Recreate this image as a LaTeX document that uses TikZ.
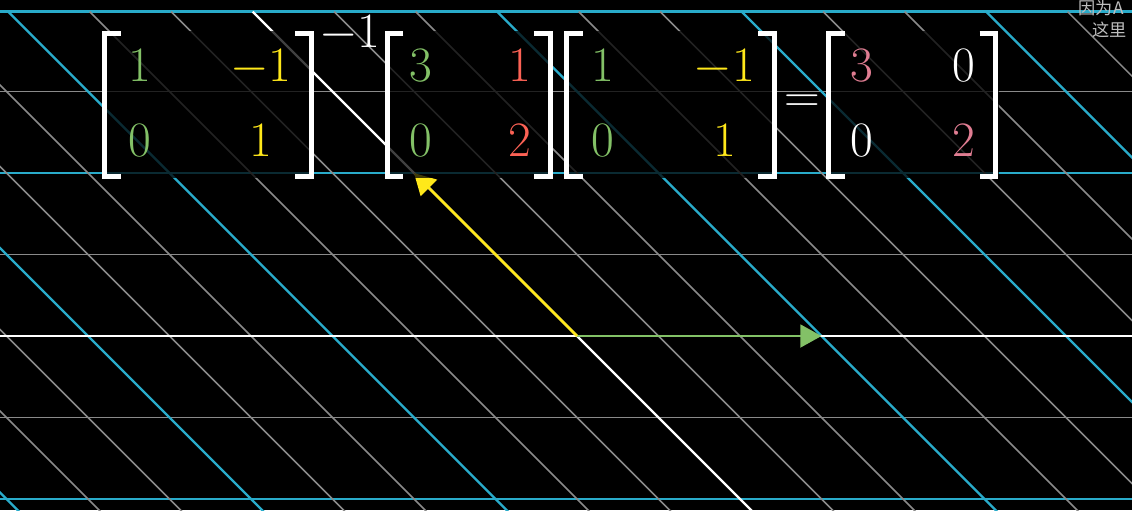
\documentclass[tikz,border=0pt]{standalone}
\usepackage{fontspec}
\newfontfamily\cjk{Noto Sans CJK SC}
\usetikzlibrary{arrows.meta}
\definecolor{gridblue}{HTML}{29ABCA}
\definecolor{gridgray}{HTML}{8A8A8A}
\definecolor{vecgreen}{HTML}{83C167}
\definecolor{vecyellow}{HTML}{FFE81A}
\definecolor{entred}{HTML}{FC6255}
\definecolor{entpink}{HTML}{E07D92}
\definecolor{subgray}{HTML}{BEBEBE}
\tikzset{
    faint/.style={line width=0.5pt, color=gridgray},
    major/.style={line width=0.8pt, color=gridblue},
    axis/.style={line width=0.8pt, color=white},
    vec/.style={line width=0.9pt, -{Triangle[length=0.26cm,width=0.28cm]}},
    matbg/.style={fill=black, fill opacity=0.75},
    brk/.style={line width=1.7pt, color=white},
    entry/.style={anchor=base, inner sep=0pt, font=\fontsize{16}{19}\selectfont},
}

\begin{document}
\begin{tikzpicture}
    \useasboundingbox (-7.08,-2.135) rectangle (6.81,4.123);
    \clip (-7.08,-2.135) rectangle (6.81,4.123);
    \fill [black] (-7.08,-2.135) rectangle (6.81,4.123);
    % horizontal lines
    \draw [major] (-7.2,-2) -- (7,-2);
    \draw [faint] (-7.2,-1) -- (7,-1);
    \draw [faint] (-7.2,1) -- (7,1);
    \draw [major] (-7.2,2) -- (7,2);
    \draw [faint] (-7.2,3) -- (7,3);
    \draw [major] (-7.2,3.98) -- (7,3.98);
    % slanted lines
    \draw [major] (-6.8,-2.2) -- (-12.98,3.98);
    \draw [faint] (-5.8,-2.2) -- (-11.98,3.98);
    \draw [faint] (-4.8,-2.2) -- (-10.98,3.98);
    \draw [major] (-3.8,-2.2) -- (-9.98,3.98);
    \draw [faint] (-2.8,-2.2) -- (-8.98,3.98);
    \draw [faint] (-1.8,-2.2) -- (-7.98,3.98);
    \draw [major] (-0.8,-2.2) -- (-6.98,3.98);
    \draw [faint] (0.2,-2.2) -- (-5.98,3.98);
    \draw [faint] (1.2,-2.2) -- (-4.98,3.98);
    \draw [faint] (3.2,-2.2) -- (-2.98,3.98);
    \draw [faint] (4.2,-2.2) -- (-1.98,3.98);
    \draw [major] (5.2,-2.2) -- (-0.98,3.98);
    \draw [faint] (6.2,-2.2) -- (0.02,3.98);
    \draw [faint] (7.2,-2.2) -- (1.02,3.98);
    \draw [major] (8.2,-2.2) -- (2.02,3.98);
    \draw [faint] (9.2,-2.2) -- (3.02,3.98);
    \draw [faint] (10.2,-2.2) -- (4.02,3.98);
    \draw [major] (11.2,-2.2) -- (5.02,3.98);
    \draw [faint] (12.2,-2.2) -- (6.02,3.98);
    % axes
    \draw [axis] (-7.2,0) -- (7,0);
    \draw [axis] (2.2,-2.2) -- (-3.98,3.98);
    % vectors
    \coordinate (O) at (0,0);
    \coordinate (gtip) at (3,0);
    \coordinate (ytip) at (-2,2);
    \draw [vec, color=vecgreen, fill=vecgreen] (O) -- (gtip);
    \draw [vec, color=vecyellow, fill=vecyellow] (O) -- (ytip);
    % matrices
    \fill [matbg] (-5.83,1.94) rectangle (-3.23,3.74);
    \fill [matbg] (-2.36,1.94) rectangle (-0.29,3.74);
    \fill [matbg] (-0.16,1.94) rectangle (2.45,3.74);
    \fill [matbg] (3.06,1.94) rectangle (5.18,3.74);
    \draw [brk] (-5.60,3.71) -- (-5.80,3.71) -- (-5.80,1.96) -- (-5.60,1.96);
    \draw [brk] (-3.46,3.71) -- (-3.26,3.71) -- (-3.26,1.96) -- (-3.46,1.96);
    \draw [brk] (-2.13,3.71) -- (-2.33,3.71) -- (-2.33,1.96) -- (-2.13,1.96);
    \draw [brk] (-0.53,3.71) -- (-0.33,3.71) -- (-0.33,1.96) -- (-0.53,1.96);
    \draw [brk] (0.07,3.71) -- (-0.13,3.71) -- (-0.13,1.96) -- (0.07,1.96);
    \draw [brk] (2.22,3.71) -- (2.42,3.71) -- (2.42,1.96) -- (2.22,1.96);
    \draw [brk] (3.29,3.71) -- (3.09,3.71) -- (3.09,1.96) -- (3.29,1.96);
    \draw [brk] (4.94,3.71) -- (5.14,3.71) -- (5.14,1.96) -- (4.94,1.96);
    \node [entry, color=vecgreen] (pa) at (-5.36,3.117) {$1$};
    \node [entry, color=vecyellow] (pb) at (-3.88,3.117) {$-1$};
    \node [entry, color=vecgreen] (pc) at (-5.36,2.202) {$0$};
    \node [entry, color=vecyellow] (pd) at (-3.88,2.202) {$1$};
    \node [entry, color=white] (inv) at (-2.79,3.546) {$-1$};
    \node [entry, color=vecgreen] (aa) at (-1.91,3.117) {$3$};
    \node [entry, color=entred] (ab) at (-0.70,3.117) {$1$};
    \node [entry, color=vecgreen] (ac) at (-1.91,2.202) {$0$};
    \node [entry, color=entred] (ad) at (-0.70,2.202) {$2$};
    \node [entry, color=vecgreen] (qa) at (0.32,3.117) {$1$};
    \node [entry, color=vecyellow] (qb) at (1.81,3.117) {$-1$};
    \node [entry, color=vecgreen] (qc) at (0.32,2.202) {$0$};
    \node [entry, color=vecyellow] (qd) at (1.81,2.202) {$1$};
    \node [entry, anchor=center, color=white] (eq) at (2.76,2.85) {$=$};
    \node [entry, color=entpink] (da) at (3.50,3.117) {$3$};
    \node [entry, color=white] (db) at (4.75,3.117) {$0$};
    \node [entry, color=white] (dc) at (3.50,2.202) {$0$};
    \node [entry, color=entpink] (dd) at (4.75,2.202) {$2$};
    % caption
    \node [anchor=base west, inner sep=0pt, color=subgray, font=\cjk\fontsize{6}{7}\selectfont] (capa) at (6.15,3.95) {因为A};
    \node [anchor=base west, inner sep=0pt, color=subgray, font=\cjk\fontsize{6}{7}\selectfont] (capb) at (6.32,3.68) {这里};
\end{tikzpicture}
\end{document}
